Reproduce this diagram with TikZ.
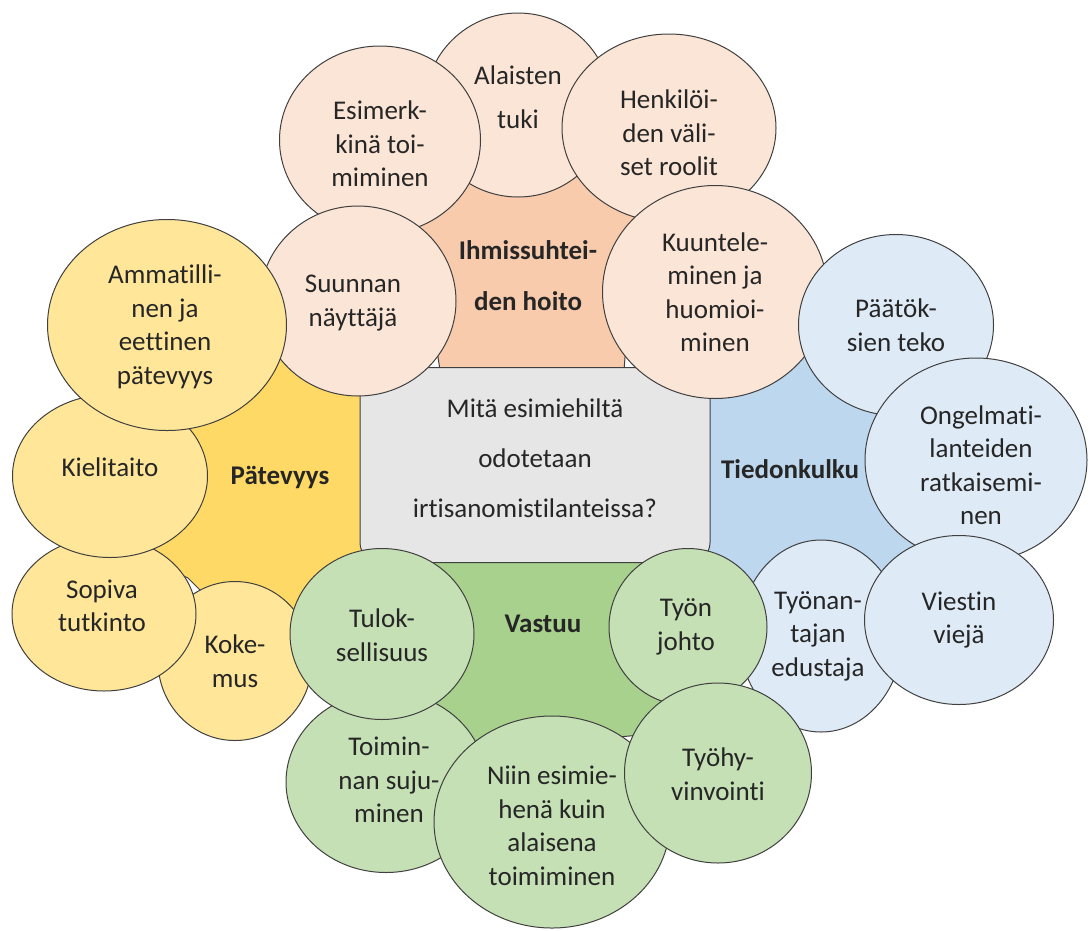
\documentclass[tikz,border=0pt]{standalone}
\usepackage{fontspec}
\setmainfont{Carlito}[Ligatures=NoCommon]
\usepackage{tikz}
\usetikzlibrary{shapes.geometric}
\definecolor{ink}{HTML}{262626}
\definecolor{edge}{HTML}{404040}
\definecolor{core}{HTML}{E7E6E6}
\definecolor{peachhub}{HTML}{F8CBAD}
\definecolor{peachbub}{HTML}{FBE5D6}
\definecolor{goldhub}{HTML}{FFD966}
\definecolor{goldbub}{HTML}{FFE699}
\definecolor{skyhub}{HTML}{BDD7EE}
\definecolor{skybub}{HTML}{DEEBF7}
\definecolor{leafhub}{HTML}{A9D18E}
\definecolor{leafbub}{HTML}{C5E0B4}

\begin{document}
\begin{tikzpicture}[x=1pt, y=-1pt, line join=round,
  txt/.style={font=\fontsize{27}{33.5}\selectfont, text=ink, align=center},
  bub/.style={ellipse, draw=edge, line width=1pt, inner sep=0pt},
  blk/.style={draw=edge, line width=1pt},
  hub/.style={font=\fontsize{27}{51}\selectfont\bfseries, text=ink, align=center}]

\useasboundingbox (0,0) rectangle (1089,930);

% ================================================ the four blocks
\draw[blk, fill=peachhub] (410,175) -- (640,175) -- (624,370) -- (440,370) -- cycle;
\draw[blk, fill=goldhub] (150,330) -- (370,330) -- (370,615) -- (225,615)
  -- (188,578) -- (150,560) -- cycle;
\draw[blk, fill=skyhub] (690,330) -- (875,330) -- (920,560) -- (880,578)
  -- (753,586) -- (690,586) -- cycle;
\draw[blk, fill=leafhub] (420,555) -- (665,555) -- (665,715) -- (640,735)
  -- (480,750) -- (420,750) -- cycle;

\node[hub] (hoito) at (528,276) {Ihmissuhtei-\\den hoito};
\node[hub] (pate) at (280,477) {Pätevyys};
\node[hub] (tieto) at (790,469) {Tiedonkulku};
\node[hub] (vast) at (543,624) {Vastuu};

% ================================================ the question
\node[draw=edge, line width=1pt, fill=core, rounded corners=20pt,
      minimum width=350pt, minimum height=195pt,
      label={[txt, font=\fontsize{27}{50}\selectfont, yshift=7pt]center:%
        Mitä esimiehiltä\\odotetaan\\irtisanomistilanteissa?}]
  (q) at (535,465) {};

% ================================================ circles
\foreach \n/\x/\y/\w/\h/\dx/\dy/\t in {
    ala/518/105/186pt/184pt/0pt/8pt/{Alaisten\\[10pt]tuki},
    hen/669/128/214pt/188pt/0pt/-5pt/{Henkilöi-\\den väli-\\set roolit},
    esi/380/140/201pt/188pt/0pt/-4pt/{Esimerk-\\kinä toi-\\miminen},
    suu/358/301/196pt/190pt/-5pt/-2pt/{Suunnan\\näyttäjä},
    kuu/715/292/225pt/213pt/0pt/0pt/{Kuuntele-\\minen ja\\huomioi-\\minen}}
  \node[bub, fill=peachbub, minimum width=\w, minimum height=\h,
        label={[txt, xshift=\dx, yshift=\dy]center:\t}] (\n) at (\x,\y) {};

\foreach \n/\x/\y/\w/\h/\dx/\dy/\t in {
    paa/896/325/195pt/181pt/0pt/0pt/{Päätök-\\sien teko},
    ong/976/460/222pt/204pt/5pt/-5pt/{Ongelmati-\\lanteiden\\ratkaisemi-\\nen},
    tya/821/636/163pt/192pt/-3pt/0pt/{Työnan-\\tajan\\edustaja},
    vie/959/620/189pt/169pt/0pt/0pt/{Viestin\\viejä}}
  \node[bub, fill=skybub, minimum width=\w, minimum height=\h,
        label={[txt, xshift=\dx, yshift=\dy]center:\t}] (\n) at (\x,\y) {};

\foreach \n/\x/\y/\w/\h/\dx/\dy/\t in {
    kok/235/661/154pt/159pt/0pt/0pt/{Koke-\\mus},
    sop/104/614/184pt/154pt/-2pt/8pt/{Sopiva\\tutkinto},
    kie/110/476/195pt/163pt/0pt/9pt/{Kielitaito},
    amm/167/325/239pt/211pt/-2pt/-2pt/{Ammatilli-\\nen ja\\eettinen\\pätevyys}}
  \node[bub, fill=goldbub, minimum width=\w, minimum height=\h,
        label={[txt, xshift=\dx, yshift=\dy]center:\t}] (\n) at (\x,\y) {};

\foreach \n/\x/\y/\w/\h/\dx/\dy/\t in {
    toi/386/782/200pt/181pt/3pt/2pt/{Toimin-\\nan suju-\\minen},
    nii/552/822/236pt/212pt/0pt/-4pt/{Niin esimie-\\henä kuin\\alaisena\\toimiminen},
    tyo/688/627/158pt/157pt/-2pt/0pt/{Työn\\johto},
    hyv/718/773/187pt/180pt/0pt/-1pt/{Työhy-\\vinvointi},
    tul/382/634/184pt/171pt/0pt/-1pt/{Tulok-\\sellisuus}}
  \node[bub, fill=leafbub, minimum width=\w, minimum height=\h,
        label={[txt, xshift=\dx, yshift=\dy]center:\t}] (\n) at (\x,\y) {};

\end{tikzpicture}
\end{document}
